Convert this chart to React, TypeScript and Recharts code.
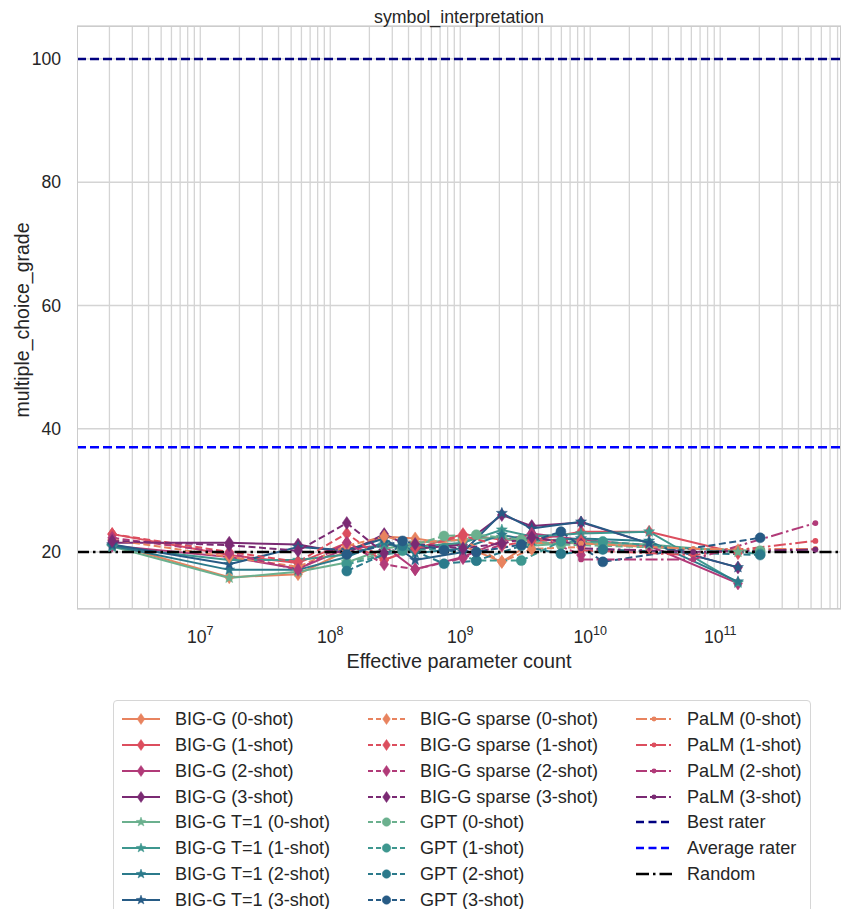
import React from 'react';
import { LineChart, Line, XAxis, YAxis, CartesianGrid } from 'recharts';

const FONT = '"Liberation Sans", Arial, Helvetica, sans-serif';
const TEXT = '#262626';

// ---------- axes ----------
const X_MAJOR_TICKS = [1e7, 1e8, 1e9, 1e10, 1e11];
const X_DECADES = [1e6, 1e7, 1e8, 1e9, 1e10, 1e11];
const X_MULTIPLIERS = [1, 2, 3, 4, 5, 6, 7, 8, 9];
const Y_TICKS = [20, 40, 60, 80, 100];
const X_DOMAIN: [number, number] = [1.126e6, 8.5e11];
const Y_DOMAIN: [number, number] = [10.75, 105.35];

// ---------- data ----------
const BIGG_X = [2.1e6, 1.67e7, 5.65e7, 1.34e8, 2.6e8, 4.5e8, 1.05e9, 2.09e9, 3.55e9, 8.5e9, 2.84e10, 1.37e11];
const BIGG_0 = [21.3, 15.9, 16.4, 20.2, 22.5, 22.2, 21.0, 18.4, 21.5, 21.4, 20.8, 20.3];
const BIGG_1 = [22.9, 19.5, 18.2, 21.5, 18.7, 20.5, 22.9, 22.0, 21.9, 23.3, 23.3, 19.8];
const BIGG_2 = [21.0, 19.2, 17.3, 20.6, 21.0, 17.2, 19.2, 21.8, 23.0, 22.0, 21.0, 14.9];
const BIGG_3 = [21.5, 21.5, 21.2, 19.8, 22.9, 20.5, 21.2, 26.0, 24.2, 24.8, 21.4, 17.5];

const T1_0 = [20.9, 15.8, 16.8, 18.3, 20.5, 21.5, 22.0, 22.4, 21.0, 21.6, 21.2, 20.0];
const T1_1 = [20.8, 18.7, 18.7, 19.6, 21.2, 20.8, 21.5, 23.6, 22.5, 23.0, 23.3, 15.0];
const T1_2 = [21.0, 17.1, 17.1, 19.2, 21.6, 19.8, 20.6, 22.8, 21.8, 22.2, 21.8, 15.2];
const T1_3 = [21.2, 18.0, 20.8, 20.3, 22.2, 18.7, 20.0, 26.3, 23.8, 24.9, 21.4, 17.5];

const SPARSE_X = [2.1e6, 1.67e7, 5.65e7, 1.34e8, 2.6e8, 4.5e8, 1.05e9, 2.09e9, 3.55e9, 8.5e9];
const SPARSE_0 = [22.0, 19.2, 17.6, 21.0, 22.5, 21.5, 22.0, 18.4, 20.5, 20.8];
const SPARSE_1 = [22.9, 20.0, 18.4, 23.0, 18.7, 20.6, 22.6, 21.0, 21.9, 21.8];
const SPARSE_2 = [22.3, 19.8, 17.1, 21.5, 18.0, 17.2, 19.0, 21.2, 23.0, 19.5];
const SPARSE_3 = [21.8, 21.1, 20.2, 24.7, 19.8, 21.3, 20.6, 21.4, 22.4, 21.2];

const GPT_X = [1.34e8, 3.6e8, 7.5e8, 1.33e9, 2.95e9, 5.95e9, 1.25e10, 2.03e11];
const GPT_0 = [18.3, 20.6, 22.6, 22.8, 22.0, 21.2, 21.0, 20.2];
const GPT_1 = [18.0, 20.2, 20.6, 18.6, 18.6, 21.7, 21.7, 19.7];
const GPT_2 = [16.9, 21.0, 18.1, 18.6, 21.0, 19.7, 20.4, 19.5];
const GPT_3 = [19.6, 21.8, 20.3, 20.0, 21.2, 23.3, 18.4, 22.3];

const PALM_X = [8.5e9, 6.2e10, 5.4e11];
const PALM_0 = [21.4, 20.5, 20.5];
const PALM_1 = [20.3, 19.5, 21.8];
const PALM_2 = [18.8, 18.8, 24.7];
const PALM_3 = [20.6, 20.0, 20.4];

const BEST_RATER = 100;
const AVERAGE_RATER = 37;
const RANDOM = 20;

// ---------- styles ----------
const FLARE = ['#e8835f', '#dc4e5e', '#b13a78', '#7a2a73'];
const CREST = ['#6bb08e', '#3e978f', '#2b7a8b', '#275b85'];
const SHOTS = ['0-shot', '1-shot', '2-shot', '3-shot'];

type Marker = 'diamond' | 'star' | 'circle' | 'dot' | 'none';
interface Series {
  name: string;
  color: string;
  dash?: string;
  legendDash?: string;
  marker: Marker;
  xs: number[];
  ys: number[];
  width?: number;
}

const DASHED = '7 3.5';
const DASHDOT = '12 3.5 2.5 3.5';

const SERIES: Series[] = [
  ...[BIGG_0, BIGG_1, BIGG_2, BIGG_3].map((ys, i) => ({ name: `BIG-G (${SHOTS[i]})`, color: FLARE[i], marker: 'diamond' as Marker, xs: BIGG_X, ys })),
  ...[T1_0, T1_1, T1_2, T1_3].map((ys, i) => ({ name: `BIG-G T=1 (${SHOTS[i]})`, color: CREST[i], marker: 'star' as Marker, xs: BIGG_X, ys })),
  ...[SPARSE_0, SPARSE_1, SPARSE_2, SPARSE_3].map((ys, i) => ({ name: `BIG-G sparse (${SHOTS[i]})`, color: FLARE[i], dash: DASHED, legendDash: '5 3', marker: 'diamond' as Marker, xs: SPARSE_X, ys })),
  ...[GPT_0, GPT_1, GPT_2, GPT_3].map((ys, i) => ({ name: `GPT (${SHOTS[i]})`, color: CREST[i], dash: DASHED, legendDash: '5 3', marker: 'circle' as Marker, xs: GPT_X, ys })),
  ...[PALM_0, PALM_1, PALM_2, PALM_3].map((ys, i) => ({ name: `PaLM (${SHOTS[i]})`, color: FLARE[i], dash: DASHDOT, legendDash: '11 3 2 3', marker: 'dot' as Marker, xs: PALM_X, ys })),
];

const REF_SERIES: Series[] = [
  { name: 'Best rater', color: '#000080', dash: '9 4', legendDash: '8 4.5', marker: 'none', xs: X_DOMAIN, ys: [BEST_RATER, BEST_RATER], width: 2.5 },
  { name: 'Average rater', color: '#0000ff', dash: '9 4', legendDash: '8 4.5', marker: 'none', xs: X_DOMAIN, ys: [AVERAGE_RATER, AVERAGE_RATER], width: 2.5 },
  { name: 'Random', color: '#000000', dash: '12 4 2.5 4', legendDash: '13 4 2.5 4', marker: 'none', xs: X_DOMAIN, ys: [RANDOM, RANDOM], width: 2.5 },
];

const GRID_X: number[] = [];
X_DECADES.forEach((d) => X_MULTIPLIERS.forEach((m) => {
  const v = d * m;
  if (v > X_DOMAIN[0] && v < X_DOMAIN[1]) GRID_X.push(v);
}));

function starPath(cx: number, cy: number, ro: number, ri: number) {
  let d = '';
  for (let k = 0; k < 10; k++) {
    const r = k % 2 === 0 ? ro : ri;
    const a = -Math.PI / 2 + (k * Math.PI) / 5;
    d += (k === 0 ? 'M' : 'L') + (cx + r * Math.cos(a)).toFixed(2) + ',' + (cy + r * Math.sin(a)).toFixed(2);
  }
  return d + 'Z';
}

function MarkerShape({ cx, cy, marker, color, scale = 1 }: { cx: number; cy: number; marker: Marker; color: string; scale?: number }) {
  if (cx == null || cy == null || isNaN(cx) || isNaN(cy)) return null;
  if (marker === 'diamond') {
    const w = 4.5 * scale, h = 6.5 * scale;
    return <path d={`M${cx},${cy - h}L${cx + w},${cy}L${cx},${cy + h}L${cx - w},${cy}Z`} fill={color} stroke={color} strokeWidth={0.5} />;
  }
  if (marker === 'star') {
    return <path d={starPath(cx, cy, 5.8 * scale, 2.4 * scale)} fill={color} stroke={color} strokeWidth={0.5} />;
  }
  if (marker === 'circle') {
    return <circle cx={cx} cy={cy} r={5 * scale} fill={color} stroke={color} strokeWidth={0.5} />;
  }
  if (marker === 'dot') {
    return <circle cx={cx} cy={cy} r={2.9 * scale} fill={color} />;
  }
  return null;
}

const XTick = (props: any) => {
  const { x, payload } = props;
  const exp = Math.round(Math.log10(payload.value));
  return (
    <text x={x} y={643} textAnchor="middle" fill={TEXT} fontFamily={FONT} fontSize={17.6}>
      <tspan>10</tspan>
      <tspan dy={-8.5} fontSize={12.5}>{exp}</tspan>
    </text>
  );
};

const YTick = (props: any) => {
  const { x, y, payload } = props;
  return (
    <text x={x} y={y} dy={6.2} textAnchor="end" fill={TEXT} fontFamily={FONT} fontSize={17.6}>
      {payload.value}
    </text>
  );
};

const LEFT = 77;
const TOP = 26;
const RIGHT = 841;
const BOTTOM = 609;

function verticalGen(props: any) {
  const scale = props?.xAxis?.scale;
  if (typeof scale === 'function') return GRID_X.map((v) => scale(v));
  if (scale && typeof scale.map === 'function') return GRID_X.map((v) => scale.map(v));
  const off = props?.offset || { left: LEFT, width: RIGHT - LEFT };
  const l0 = Math.log10(X_DOMAIN[0]), l1 = Math.log10(X_DOMAIN[1]);
  return GRID_X.map((v) => off.left + ((Math.log10(v) - l0) / (l1 - l0)) * off.width);
}

const LEGEND_COLS = [
  { lx1: 122, lx2: 160, tx: 175, items: [...SERIES.slice(0, 8)] },
  { lx1: 368, lx2: 405, tx: 420, items: [...SERIES.slice(8, 16)] },
  { lx1: 636, lx2: 672, tx: 687, items: [...SERIES.slice(16, 20), ...REF_SERIES] },
];

function LegendEntry({ s, lx1, lx2, tx, cy }: { s: Series; lx1: number; lx2: number; tx: number; cy: number }) {
  const w = lx2 - lx1;
  return (
    <>
      <svg style={{ position: 'absolute', left: lx1, top: cy - 10, overflow: 'visible' }} width={w} height={20}>
        <line x1={0} y1={10} x2={w} y2={10} stroke={s.color} strokeWidth={s.width ?? 2} strokeDasharray={s.legendDash} />
        <MarkerShape cx={w / 2} cy={10} marker={s.marker} color={s.color} scale={0.85} />
      </svg>
      <div style={{ position: 'absolute', left: tx, top: cy - 12, height: 24, lineHeight: '24px', fontSize: 18.1, fontFamily: FONT, color: TEXT, whiteSpace: 'nowrap' }}>
        {s.name}
      </div>
    </>
  );
}

export default function App() {
  const all = [...SERIES, ...REF_SERIES];
  return (
    <div style={{ position: 'absolute', left: 0, top: 0, width: 842, height: 909, background: '#fff', overflow: 'hidden' }}>
      <div style={{ position: 'absolute', left: 0, top: 0 }}>
        <LineChart width={842} height={700} margin={{ top: TOP, right: 842 - RIGHT, bottom: 0, left: 0 }}>
          <CartesianGrid stroke="#d4d4d4" strokeWidth={1.3} verticalCoordinatesGenerator={verticalGen} />
          <XAxis
            dataKey="x"
            type="number"
            scale="log"
            domain={X_DOMAIN}
            allowDataOverflow
            ticks={X_MAJOR_TICKS}
            tick={<XTick />}
            tickLine={false}
            axisLine={false}
            height={700 - BOTTOM}
            interval={0}
          />
          <YAxis
            type="number"
            domain={Y_DOMAIN}
            allowDataOverflow
            ticks={Y_TICKS}
            tick={<YTick />}
            tickLine={false}
            axisLine={false}
            width={LEFT}
            tickMargin={10}
            interval={0}
          />
          {all.map((s) => (
            <Line
              key={s.name}
              data={s.xs.map((x, i) => ({ x, y: s.ys[i] }))}
              dataKey="y"
              type="linear"
              stroke={s.color}
              strokeWidth={s.width ?? 2}
              strokeDasharray={s.dash}
              isAnimationActive={false}
              dot={s.marker === 'none' ? false : (p: any) => <MarkerShape key={`${s.name}-${p.index}`} cx={p.cx} cy={p.cy} marker={s.marker} color={s.color} />}
              activeDot={false}
              legendType="none"
            />
          ))}
        </LineChart>
      </div>
      {/* frame */}
      <div style={{ position: 'absolute', left: LEFT - 0.5, top: TOP - 0.5, width: RIGHT - LEFT, height: BOTTOM - TOP, border: '1.3px solid #cccccc', pointerEvents: 'none', boxSizing: 'border-box' }} />
      {/* title */}
      <div style={{ position: 'absolute', left: LEFT, width: RIGHT - LEFT, top: 5, textAlign: 'center', fontFamily: FONT, fontSize: 17.8, color: TEXT, lineHeight: '24px' }}>
        symbol_interpretation
      </div>
      {/* x label */}
      <div style={{ position: 'absolute', left: LEFT, width: RIGHT - LEFT, top: 649, textAlign: 'center', fontFamily: FONT, fontSize: 19.8, color: TEXT, lineHeight: '24px' }}>
        Effective parameter count
      </div>
      {/* y label */}
      <div style={{ position: 'absolute', left: 22, top: (TOP + BOTTOM) / 2 + 2, transform: 'translate(-50%, -50%) rotate(-90deg)', fontFamily: FONT, fontSize: 19.5, color: TEXT, whiteSpace: 'nowrap', lineHeight: '24px' }}>
        multiple_choice_grade
      </div>
      {/* legend */}
      <div style={{ position: 'absolute', left: 113, top: 700, width: 698, height: 240, border: '1.3px solid #d6d6d6', borderRadius: 4, background: '#fff', boxSizing: 'border-box' }} />
      {LEGEND_COLS.map((col) =>
        col.items.map((s, r) => (
          <LegendEntry key={s.name} s={s} lx1={col.lx1} lx2={col.lx2} tx={col.tx} cy={719 + r * 25.86} />
        ))
      )}
    </div>
  );
}
